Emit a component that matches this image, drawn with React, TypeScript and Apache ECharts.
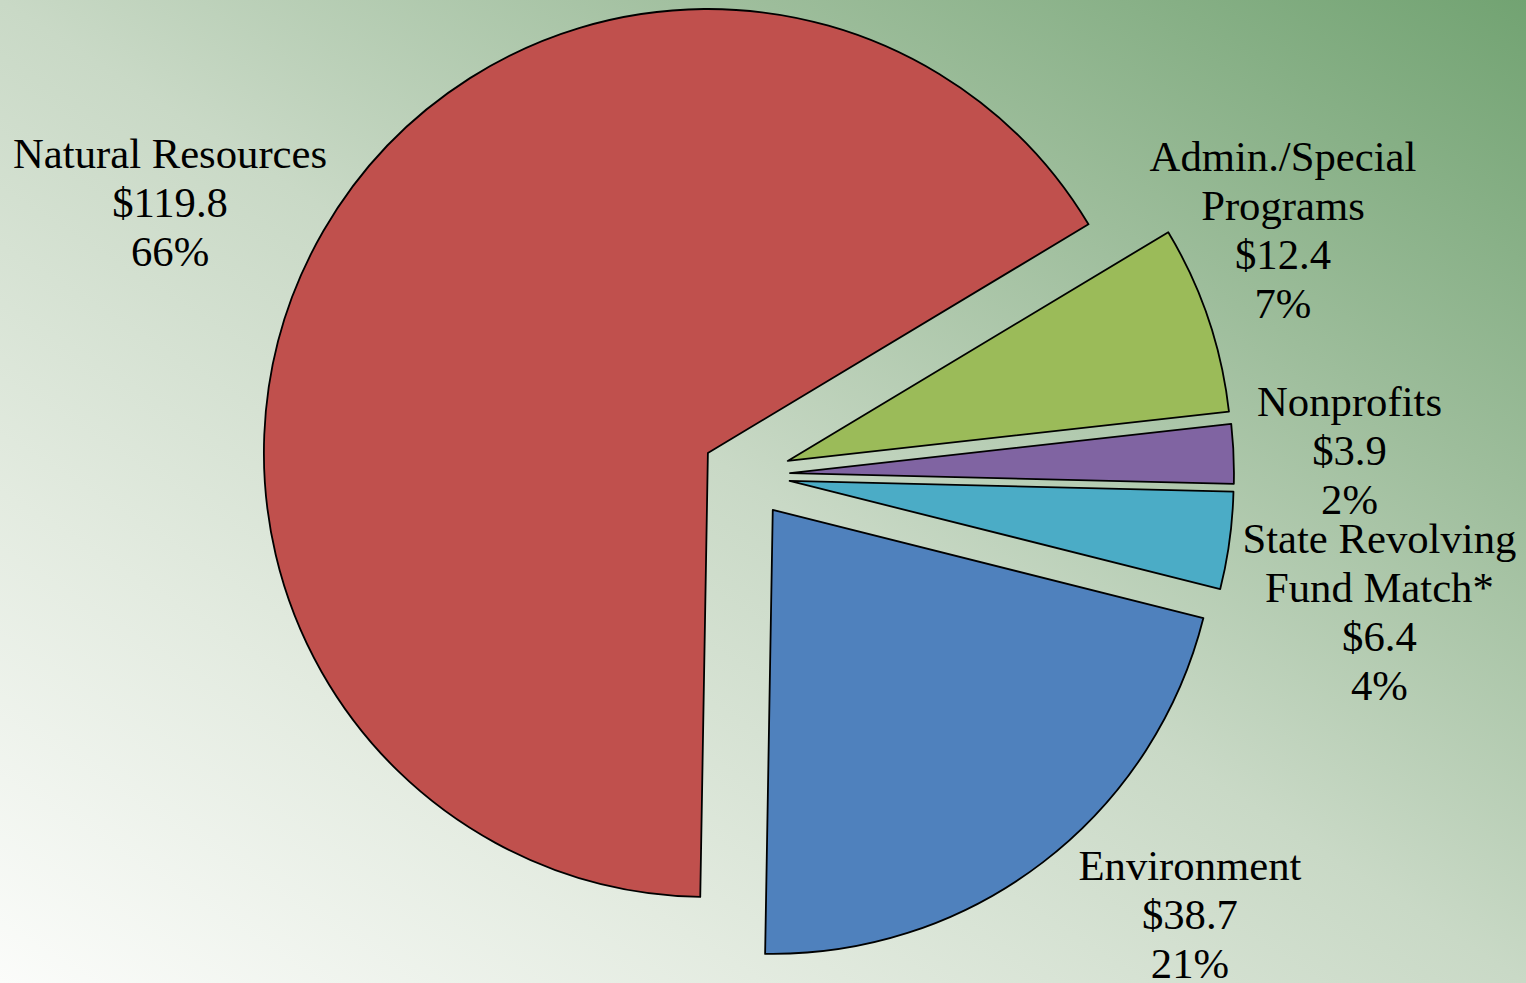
import React, { useEffect, useRef } from 'react';
import * as echarts from 'echarts';

// ---- data ----
const categories = [
  'Admin./Special\nPrograms',
  'Nonprofits',
  'State Revolving\nFund Match*',
  'Environment',
  'Natural Resources',
];
const values = [12.4, 3.9, 6.4, 38.7, 119.8];

// ---- styles / layout ----
const colors = ['#9BBB59', '#8064A2', '#4BACC6', '#4F81BD', '#C0504D'];
const labelAngleShift = [5.8, -0.2, -4.45, 7.8, 4.7]; // degrees from slice bisector
const labelDistance = [590, 604, 648, 625, 637]; // px from pie centre
const CX = 746;
const CY = 475;
const RADIUS = 444;
const START_ANGLE = 31;
const EXPLODE = 44;

export default function App() {
  const ref = useRef<HTMLDivElement>(null);

  useEffect(() => {
    if (!ref.current) return;
    const chart = echarts.init(ref.current, undefined, { renderer: 'svg' });
    const total = values.reduce((a, b) => a + b, 0);
    const mids: number[] = [];
    let cum = 0;
    values.forEach((v) => {
      mids.push(START_ANGLE - ((cum + v / 2) / total) * 360);
      cum += v;
    });

    // one pie per slice, each moved outward along its bisector (exploded pie)
    const series = categories.map((_, i) => {
      const m = (mids[i] * Math.PI) / 180;
      return {
        type: 'pie',
        center: [CX + EXPLODE * Math.cos(m), CY - EXPLODE * Math.sin(m)],
        radius: RADIUS,
        startAngle: START_ANGLE,
        clockwise: true,
        silent: true,
        selectedMode: false,
        avoidLabelOverlap: false,
        percentPrecision: 0,
        emphasis: { disabled: true, scale: false },
        label: {
          show: true,
          position: 'outside',
          formatter: '{b}\n${c}\n{d}%',
          fontFamily: '"Liberation Serif", "Times New Roman", serif',
          fontSize: 42.7,
          lineHeight: 49,
          color: '#000',
        },
        labelLine: { show: false },
        labelLayout: () => {
          const a = ((mids[i] + labelAngleShift[i]) * Math.PI) / 180;
          return {
            x: CX + labelDistance[i] * Math.cos(a),
            y: CY - labelDistance[i] * Math.sin(a),
            align: 'center',
            verticalAlign: 'middle',
          };
        },
        data: categories.map((name, j) => ({
          name,
          value: values[j],
          label: { show: j === i },
          itemStyle:
            j === i
              ? { color: colors[j], borderColor: '#000', borderWidth: 1.8 }
              : { color: 'rgba(0,0,0,0)', borderWidth: 0 },
        })),
      };
    });

    chart.setOption({
      animation: false,
      backgroundColor: 'transparent',
      series,
    });
    return () => chart.dispose();
  }, []);

  return (
    <div
      ref={ref}
      style={{
        position: 'fixed',
        left: 0,
        top: 0,
        width: 1526,
        height: 983,
        background:
          'linear-gradient(to top right, #fbfcfa 0%, #e3ebe0 25%, #c9d9c6 50%, #9dbd9b 75%, #72a372 100%)',
      }}
    />
  );
}
